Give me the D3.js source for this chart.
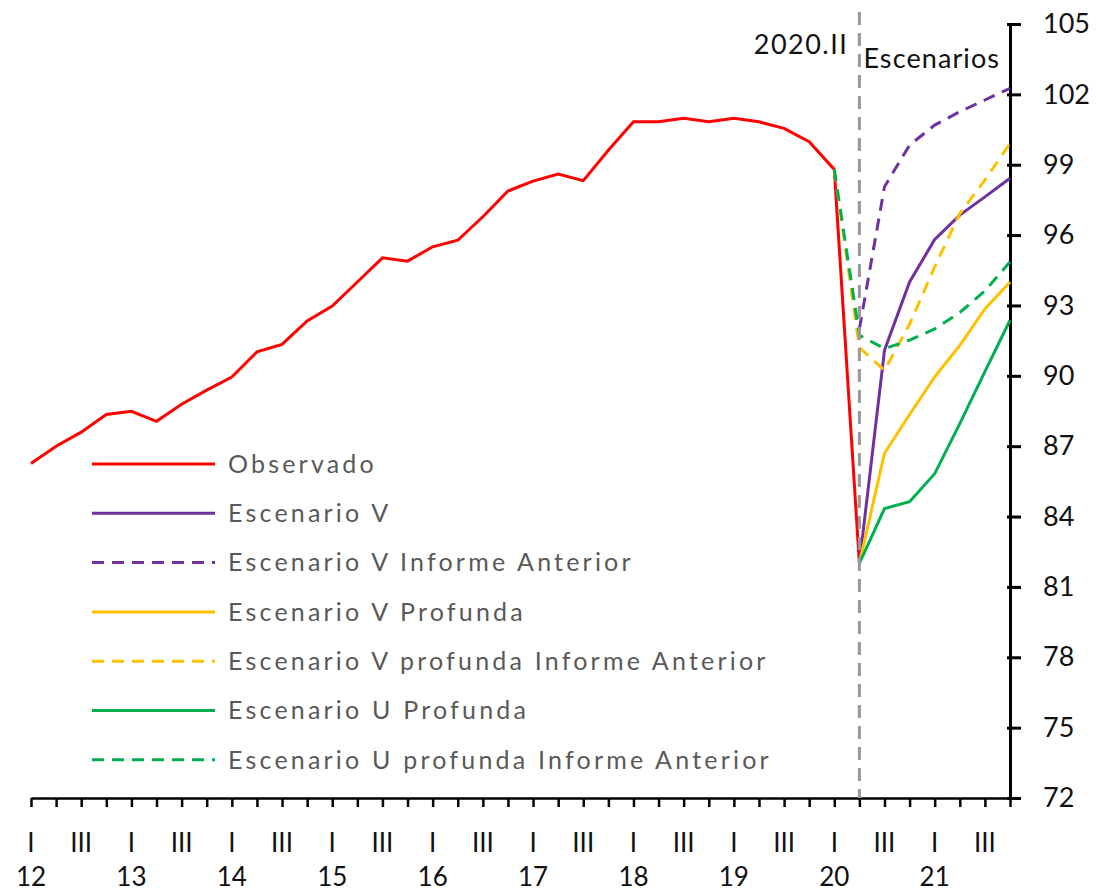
<!DOCTYPE html>
<html>
<head>
<meta charset="utf-8">
<style>
  body { margin: 0; background: #fff; }
  svg text { font-family: Lato, "Open Sans", sans-serif; }
</style>
<script src="https://d3js.org/d3.v7.min.js"></script>
</head>
<body>
<div id="chart"></div>
<script>
// quarters from 2012.I to 2021.IV
const years = ["12", "13", "14", "15", "16", "17", "18", "19", "20", "21"];
const quarterLabels = ["I", "II", "III", "IV"];
const shownQuarters = ["I", "III"];

// observed, 2012.I .. 2020.II (index 0..33)
const observado = [86.26, 87.0, 87.6, 88.35, 88.49, 88.06, 88.79, 89.39,
  89.95, 91.02, 91.34, 92.34, 92.97, 94.0, 95.03, 94.89,
  95.5, 95.78, 96.78, 97.88, 98.3, 98.6, 98.32, 99.62,
  100.83, 100.83, 100.98, 100.83, 100.98, 100.83, 100.55, 99.98,
  98.8, 82.0];

// scenarios, starting at 2020.II (index 33)
const escV = [82.0, 91.09, 94.0, 95.81, 96.85, 97.63, 98.42];
const escVProf = [82.0, 86.7, 88.35, 89.95, 91.3, 92.85, 94.0];
const escUProf = [82.0, 84.34, 84.63, 85.83, 87.96, 90.18, 92.37];
// previous report
const escVAnt = [92.0, 98.06, 99.84, 100.69, 101.26, 101.76, 102.26];        // from 2020.II
const escVProfAnt = [98.8, 91.2, 90.24, 92.2, 94.65, 96.92, 98.34, 99.91];   // from 2020.I
const escUProfAnt = [98.8, 91.73, 91.16, 91.52, 92.0, 92.7, 93.62, 94.86];   // from 2020.I

const yTicks = [72, 75, 78, 81, 84, 87, 90, 93, 96, 99, 102, 105];

const series = [
  { name: "Observado", start: 0, values: observado, color: "#ff0000", dash: null },
  { name: "Escenario V", start: 33, values: escV, color: "#7030a0", dash: null },
  { name: "Escenario V Informe Anterior", start: 33, values: escVAnt, color: "#7030a0", dash: "12,8" },
  { name: "Escenario V Profunda", start: 33, values: escVProf, color: "#ffc000", dash: null },
  { name: "Escenario V profunda Informe Anterior", start: 32, values: escVProfAnt, color: "#ffc000", dash: "12,8" },
  { name: "Escenario U Profunda", start: 33, values: escUProf, color: "#00b050", dash: null },
  { name: "Escenario U profunda Informe Anterior", start: 32, values: escUProfAnt, color: "#00b050", dash: "12,8" }
];

const width = 1096, height = 893;
const nQ = years.length * 4;

const svg = d3.select("#chart").append("svg")
  .attr("width", width)
  .attr("height", height);

const x = d3.scaleLinear().domain([0, nQ - 1]).range([31, 1010]);
const y = d3.scaleLinear().domain([72, 105]).range([798, 24]);

// x axis: a tick at every quarter
const xAxis = svg.append("g")
  .attr("transform", `translate(0,${y(72)})`)
  .call(d3.axisBottom(x).tickValues(d3.range(nQ)).tickSize(9).tickSizeOuter(0).tickFormat(""));
xAxis.select(".domain").attr("stroke", "#000").attr("stroke-width", 2.5);
xAxis.selectAll(".tick line").attr("stroke", "#000").attr("stroke-width", 2.5);

// quarter labels (I and III)
const qData = d3.range(nQ).filter(i => shownQuarters.includes(quarterLabels[i % 4]));
svg.append("g").selectAll("text")
  .data(qData)
  .join("text")
  .attr("x", i => x(i))
  .attr("y", 852)
  .attr("text-anchor", "middle")
  .attr("font-size", 26)
  .attr("fill", "#111")
  .text(i => quarterLabels[i % 4]);

// year labels
svg.append("g").selectAll("text")
  .data(years)
  .join("text")
  .attr("x", (d, i) => x(i * 4))
  .attr("y", 886)
  .attr("text-anchor", "middle")
  .attr("font-size", 26)
  .attr("fill", "#111")
  .text(d => d);

// y axis on the right
const yAxis = svg.append("g")
  .attr("transform", `translate(${x(nQ - 1)},0)`)
  .call(d3.axisRight(y).tickValues(yTicks).tickSize(11).tickSizeOuter(0).tickPadding(22));
yAxis.select(".domain").attr("stroke", "#000").attr("stroke-width", 3);
yAxis.selectAll(".tick line").attr("stroke", "#000").attr("stroke-width", 3).attr("x1", -3);
yAxis.selectAll(".tick text")
  .attr("font-size", 27)
  .attr("fill", "#111")
  .attr("font-family", "Lato, sans-serif");

// lines
const line = d3.line()
  .x(d => x(d.i))
  .y(d => y(d.v));

series.forEach(s => {
  const pts = s.values.map((v, k) => ({ i: s.start + k, v: v }));
  svg.append("path")
    .datum(pts)
    .attr("fill", "none")
    .attr("stroke", s.color)
    .attr("stroke-width", 3)
    .attr("stroke-dasharray", s.dash)
    .attr("d", line);
});

// 2020.II marker
const xCut = x(33);
svg.append("line")
  .attr("x1", xCut).attr("x2", xCut)
  .attr("y1", 12).attr("y2", y(72))
  .attr("stroke", "#999")
  .attr("stroke-width", 3)
  .attr("stroke-dasharray", "13,8");

svg.append("text")
  .attr("x", xCut - 11)
  .attr("y", 54)
  .attr("text-anchor", "end")
  .attr("font-size", 27)
  .attr("letter-spacing", 1.5)
  .attr("fill", "#111")
  .text("2020.II");

svg.append("text")
  .attr("x", xCut + 4)
  .attr("y", 68)
  .attr("font-size", 27)
  .attr("letter-spacing", 1.1)
  .attr("fill", "#111")
  .text("Escenarios");

// legend
const legend = svg.append("g").selectAll("g")
  .data(series)
  .join("g")
  .attr("transform", (d, i) => `translate(92,${464 + i * 49.3})`);

legend.append("line")
  .attr("x1", 0).attr("x2", 123)
  .attr("stroke", d => d.color)
  .attr("stroke-width", 3)
  .attr("stroke-dasharray", d => d.dash);

legend.append("text")
  .attr("x", 136)
  .attr("dy", "0.35em")
  .attr("font-size", 25)
  .attr("letter-spacing", 3.2)
  .attr("fill", "#595959")
  .text(d => d.name);
</script>
</body>
</html>
